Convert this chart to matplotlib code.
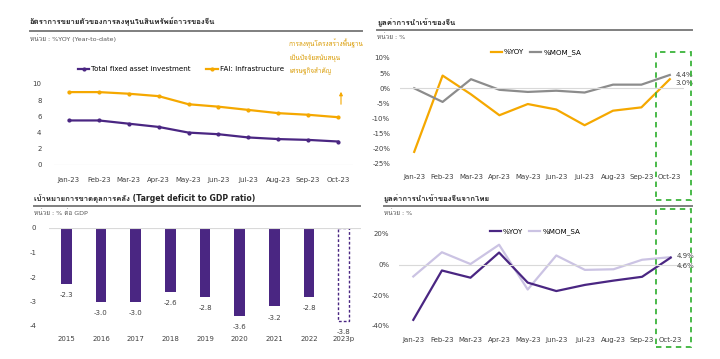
import matplotlib
matplotlib.use('Agg')
import matplotlib.pyplot as plt
from matplotlib import font_manager
from matplotlib.patches import Rectangle, FancyArrowPatch
from fontTools.ttLib import TTFont

# ข้อมูล
months = ['Jan-23', 'Feb-23', 'Mar-23', 'Apr-23', 'May-23', 'Jun-23', 'Jul-23', 'Aug-23', 'Sep-23', 'Oct-23']
fai_total = [5.5, 5.5, 5.1, 4.7, 4.0, 3.8, 3.4, 3.2, 3.1, 2.9]
fai_infra = [9.0, 9.0, 8.8, 8.5, 7.5, 7.2, 6.8, 6.4, 6.2, 5.9]
imp_yoy = [-21.0, 4.2, -2.0, -8.9, -5.2, -7.0, -12.2, -7.4, -6.3, 3.0]
imp_mom = [0.0, -4.5, 3.0, -0.5, -1.2, -0.8, -1.4, 1.2, 1.2, 4.4]
years = ['2015', '2016', '2017', '2018', '2019', '2020', '2021', '2022', '2023p']
deficit = [-2.3, -3.0, -3.0, -2.6, -2.8, -3.6, -3.2, -2.8, -3.8]
th_yoy = [-36.0, -3.8, -8.5, 7.9, -11.7, -17.2, -13.2, -10.4, -7.9, 4.6]
th_mom = [-7.7, 8.1, 0.4, 13.0, -16.2, 6.0, -3.4, -3.0, 3.2, 4.9]

PURPLE = '#4a2682'
ORANGE = '#f5a800'
GRAY = '#8c8c8c'
LILAC = '#cbc3e3'
GREEN = '#3cb43c'
TXT = '#404040'


# หาฟอนต์ที่มีอักษรไทย
def thai_family():
    for f in font_manager.fontManager.ttflist:
        try:
            cmap = TTFont(f.fname, fontNumber=0, lazy=True).getBestCmap()
        except Exception:
            continue
        if cmap and 0x0E01 in cmap and 0x41 in cmap:
            return f.name
    return None

fam = thai_family()
plt.rcParams['font.family'] = ['DejaVu Sans'] + ([fam] if fam else [])
plt.rcParams['axes.unicode_minus'] = False

W, H = 720, 359
fig = plt.figure(figsize=(W / 100, H / 100), dpi=100)


def px_axes(l, t, r, b):
    return fig.add_axes([l / W, 1 - b / H, (r - l) / W, (b - t) / H])


def fx(x):
    return x / W


def fy(y):
    return 1 - y / H


def header(x0, x1, y_title, y_line, y_sub, title, sub):
    fig.text(fx(x0), fy(y_title), title, fontsize=5.6, fontweight='bold', color='#262626', va='center')
    fig.add_artist(plt.Line2D([fx(x0), fx(x1)], [fy(y_line), fy(y_line)], color='#7f7f7f', lw=1.4))
    fig.text(fx(x0), fy(y_sub), sub, fontsize=4.6, color='#595959', va='center')


def style(ax, pad_y=6):
    for s in ax.spines.values():
        s.set_visible(False)
    ax.tick_params(length=0, labelsize=5.0, colors=TXT)
    ax.tick_params(axis='y', pad=pad_y)


# ---- ซ้ายบน
header(30, 362, 22, 31, 38, 'อัตราการขยายตัวของการลงทุนในสินทรัพย์ถาวรของจีน', 'หน่วย : %YOY (Year-to-date)')
ax1 = px_axes(54, 84, 353, 165)
x = range(len(months))
ax1.plot(x, fai_total, color=PURPLE, lw=1.6, marker='o', ms=2, label='Total fixed asset investment')
ax1.plot(x, fai_infra, color=ORANGE, lw=1.6, marker='o', ms=2, label='FAI: Infrastructure')
ax1.set_xlim(-0.5, len(months) - 0.5)
ax1.set_ylim(0, 10)
ax1.set_yticks([0, 2, 4, 6, 8, 10])
ax1.set_xticks(list(x))
ax1.set_xticklabels(months)
style(ax1, 9)
ax1.tick_params(axis='x', pad=9)
ax1.axhline(0, color='#d9d9d9', lw=0.8)
ax1.legend(loc='center', bbox_to_anchor=(fx(181), fy(69)), bbox_transform=fig.transFigure, ncol=2,
           frameon=False, fontsize=5.1, handlelength=1.6, columnspacing=2.2, handletextpad=0.3)
fig.text(fx(289), fy(57), 'การลงทุนโครงสร้างพื้นฐาน\nเป็นปัจจัยสนับสนุน\nเศรษฐกิจสำคัญ', fontsize=4.6, color='#d99a00',
         va='center', linespacing=1.9)
fig.add_artist(FancyArrowPatch((fx(341), fy(107)), (fx(341), fy(89)), transform=fig.transFigure,
                               arrowstyle='-|>', mutation_scale=5, color=ORANGE, lw=0.8))

# ---- ขวาบน
header(377, 692, 23, 30, 37, 'มูลค่าการนำเข้าของจีน', 'หน่วย : %')
ax2 = px_axes(400, 58, 684, 164)
ax2.plot(x, imp_yoy, color=ORANGE, lw=1.6, label='%YOY')
ax2.plot(x, imp_mom, color=GRAY, lw=1.6, label='%MOM_SA')
ax2.set_xlim(-0.5, len(months) - 0.5)
ax2.set_ylim(-25, 10)
ax2.set_yticks(range(-25, 11, 5))
ax2.set_yticklabels([f'{v}%' for v in range(-25, 11, 5)])
ax2.set_xticks(list(x))
ax2.set_xticklabels(months)
style(ax2, 7)
ax2.tick_params(axis='x', pad=7)
ax2.axhline(0, color='#d9d9d9', lw=0.8)
ax2.legend(loc='center', bbox_to_anchor=(fx(536), fy(52.5)), bbox_transform=fig.transFigure, ncol=2,
           frameon=False, fontsize=5.1, handlelength=1.6, columnspacing=0.8, handletextpad=0.3)
ax2.annotate(f'{imp_mom[-1]:.1f}%', (9, imp_mom[-1]), xytext=(4, 0), textcoords='offset points',
             fontsize=5.0, color=TXT, va='center', annotation_clip=False)
ax2.annotate(f'{imp_yoy[-1]:.1f}%', (9, imp_yoy[-1]), xytext=(4, -3), textcoords='offset points',
             fontsize=5.0, color=TXT, va='center', annotation_clip=False)

# ---- ซ้ายล่าง
header(34, 360, 199, 206, 213, 'เป้าหมายการขาดดุลการคลัง (Target deficit to GDP ratio)', 'หน่วย : % ต่อ GDP')
ax3 = px_axes(49, 228, 361, 326)
xb = range(len(years))
bars = ax3.bar(xb, deficit, width=0.3, color=PURPLE)
bars[-1].set_facecolor('white')
bars[-1].set_edgecolor(PURPLE)
bars[-1].set_linestyle((0, (2, 1.5)))
bars[-1].set_linewidth(1.0)
for i, v in enumerate(deficit):
    ax3.annotate(f'{v:.1f}', (i, v), xytext=(0, -8), textcoords='offset points', ha='center', va='center',
                 fontsize=5.0, color=TXT, annotation_clip=False)
ax3.set_xlim(-0.5, len(years) - 0.5)
ax3.set_ylim(-4, 0)
ax3.set_yticks([0, -1, -2, -3, -4])
ax3.set_xticks(list(xb))
ax3.set_xticklabels(years)
style(ax3, 9)
ax3.tick_params(axis='x', pad=7)
ax3.axhline(0, color='#d9d9d9', lw=0.8)

# ---- ขวาล่าง
header(384, 692, 199, 206, 213, 'มูลค่าการนำเข้าของจีนจากไทย', 'หน่วย : %')
ax4 = px_axes(399, 234, 685, 326)
ax4.plot(x, th_mom, color=LILAC, lw=1.6, label='%MOM_SA')
ax4.plot(x, th_yoy, color=PURPLE, lw=1.6, label='%YOY')
ax4.set_xlim(-0.5, len(months) - 0.5)
ax4.set_ylim(-40, 20)
ax4.set_yticks([-40, -20, 0, 20])
ax4.set_yticklabels([f'{v}%' for v in [-40, -20, 0, 20]])
ax4.set_xticks(list(x))
ax4.set_xticklabels(months)
style(ax4, 7)
ax4.tick_params(axis='x', pad=8)
ax4.axhline(0, color='#d9d9d9', lw=0.8)
h, l = ax4.get_legend_handles_labels()
ax4.legend(h[::-1], l[::-1], loc='center', bbox_to_anchor=(fx(535), fy(232)), bbox_transform=fig.transFigure, ncol=2,
           frameon=False, fontsize=5.1, handlelength=1.6, columnspacing=0.8, handletextpad=0.3)
ax4.annotate(f'{th_mom[-1]:.1f}%', (9, th_mom[-1]), xytext=(4, 1), textcoords='offset points',
             fontsize=5.0, color=TXT, va='center', annotation_clip=False)
ax4.annotate(f'{th_yoy[-1]:.1f}%', (9, th_yoy[-1]), xytext=(4, -6), textcoords='offset points',
             fontsize=5.0, color=TXT, va='center', annotation_clip=False)

# กรอบเน้นเดือน Oct
for (t, b) in [(52, 200), (209, 347)]:
    fig.add_artist(Rectangle((fx(656), fy(b)), fx(691) - fx(656), fy(t) - fy(b), transform=fig.transFigure,
                             fill=False, edgecolor=GREEN, lw=1.3, linestyle=(0, (3, 2.5))))

fig.savefig('out.png', dpi=100)
